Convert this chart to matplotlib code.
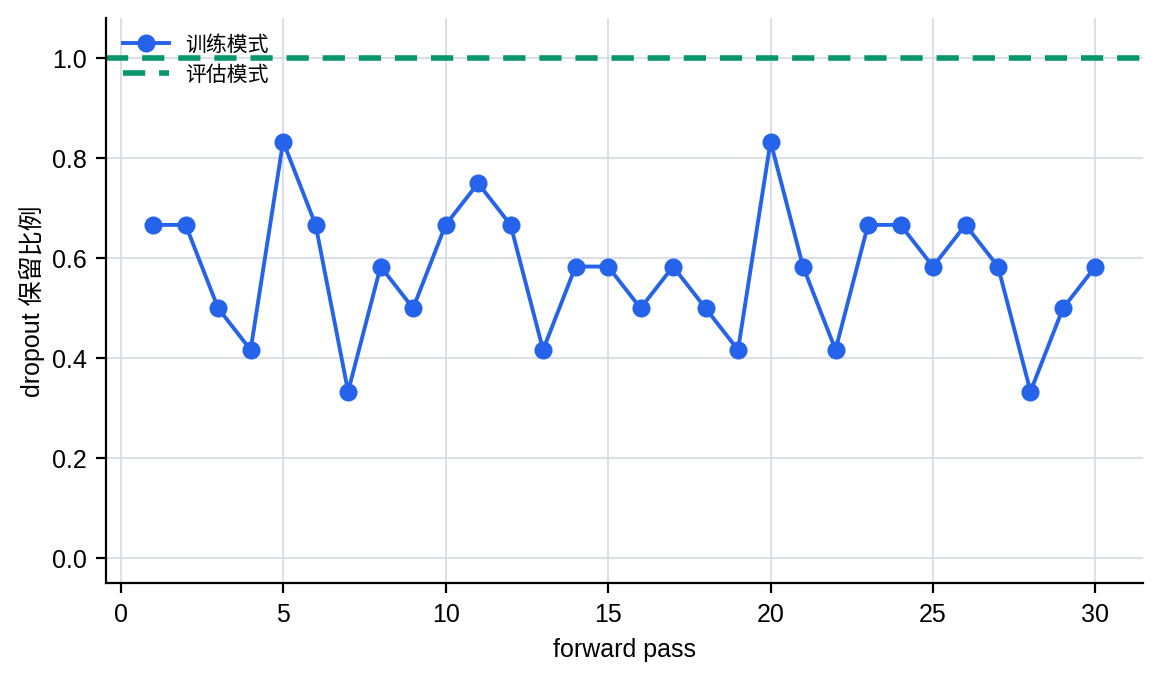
import matplotlib
matplotlib.use("Agg")
import matplotlib.pyplot as plt
import numpy as np

plt.rcParams['font.family'] = ['Liberation Sans', 'Noto Sans CJK SC', 'DejaVu Sans']

passes = np.arange(1, 31)
keep_ratio = [8/12, 8/12, 6/12, 5/12, 10/12, 8/12, 4/12, 7/12, 6/12, 8/12,
              9/12, 8/12, 5/12, 7/12, 7/12, 6/12, 7/12, 6/12, 5/12, 10/12,
              7/12, 5/12, 8/12, 8/12, 7/12, 8/12, 7/12, 4/12, 6/12, 7/12]
eval_ratio = 1.0

fig, ax = plt.subplots(figsize=(5.8, 3.375), dpi=200)
fig.subplots_adjust(left=0.0914, right=0.985, top=0.973, bottom=0.136)

ax.plot(passes, keep_ratio, color='#2563eb', lw=1.4, marker='o', ms=5.5, label='训练模式', zorder=3)
ax.axhline(eval_ratio, color='#059669', lw=2.0, ls=(0, (4, 2.5)), label='评估模式', zorder=2)

ax.set_ylim(-0.05, 1.08)
ax.set_yticks(np.arange(0, 1.01, 0.2))
ax.set_xlabel('forward pass', fontsize=9)
ax.set_ylabel('dropout 保留比例', fontsize=9, labelpad=2.5)
ax.tick_params(labelsize=9, width=0.8, length=3.5)
ax.grid(color='#d5d9e0', lw=0.6)
ax.set_axisbelow(True)
for s in ['top', 'right']:
    ax.spines[s].set_visible(False)
for s in ['left', 'bottom']:
    ax.spines[s].set_linewidth(0.8)

ax.legend(loc='upper left', frameon=False, fontsize=7.5, handlelength=2.2,
          borderaxespad=0.4, labelspacing=0.5)

fig.savefig('out.png', dpi=200)
